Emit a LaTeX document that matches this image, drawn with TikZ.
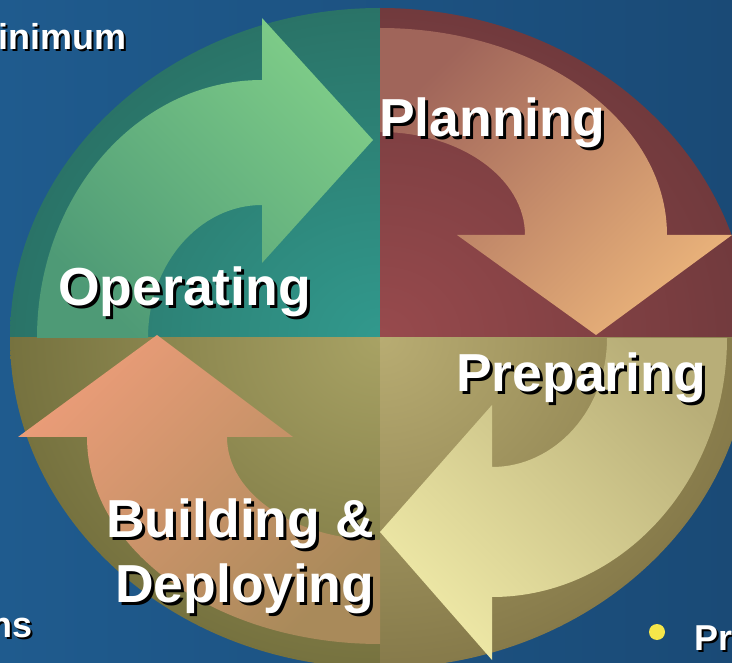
\documentclass[tikz,border=0pt]{standalone}
\usepackage{fontspec}
\setmainfont{Liberation Sans}
\definecolor{bgleft}{HTML}{1F5B8E}
\definecolor{bgright}{HTML}{1A4A76}
\definecolor{tealin}{HTML}{31998D}
\definecolor{tealout}{HTML}{2A7367}
\definecolor{redin}{HTML}{984A4D}
\definecolor{redout}{HTML}{713A3D}
\definecolor{olivein}{HTML}{A8A264}
\definecolor{oliveout}{HTML}{76723F}
\definecolor{khakiin}{HTML}{B8AC72}
\definecolor{khakiout}{HTML}{867A4A}
\definecolor{greentail}{HTML}{4E9A76}
\definecolor{greenhead}{HTML}{7ECC88}
\definecolor{orangetail}{HTML}{A0655A}
\definecolor{orangehead}{HTML}{E9B27A}
\definecolor{yellowtail}{HTML}{B8AE78}
\definecolor{yellowhead}{HTML}{EEE8A6}
\definecolor{salmontail}{HTML}{A98A5A}
\definecolor{salmonhead}{HTML}{EA9C78}
\definecolor{bulletyellow}{HTML}{F5E64A}
\begin{document}
\begin{tikzpicture}[x=1pt, y=-1pt]
    \tikzset{
        phase/.style={font=\fontsize{53.5}{60}\selectfont\bfseries, text=white, inner sep=0pt},
        phaseshadow/.style={phase, text=black},
        note/.style={font=\fontsize{36}{40}\selectfont\bfseries, text=white, inner sep=0pt},
        noteshadow/.style={note, text=black}
    }
    \useasboundingbox (0,0) rectangle (732,663);

    % Fundo
    \shade[left color=bgleft, right color=bgright] (0,0) rectangle (732,663);

    % Quadrantes
    \foreach \qx/\qy/\cin/\cout in {0/0/tealin/tealout, 760/0/redin/redout, 0/700/olivein/oliveout, 760/700/khakiin/khakiout} {
        \begin{scope}
            \clip (380,338) rectangle (\qx,\qy);
            \shade[inner color=\cin, outer color=\cout] (380,338) ellipse [x radius=370pt, y radius=330pt];
        \end{scope}
    }

    % Setas
    \shade[bottom color=greentail, top color=greenhead, shading angle=-45]
        (148,338) -- (37,338) arc [start angle=180, end angle=90, x radius=225pt, y radius=258pt]
        -- (262,18) -- (373,140) -- (262,263) -- (262,205)
        arc [start angle=90, end angle=180, x radius=114pt, y radius=133pt] -- cycle;
    \shade[top color=orangetail, bottom color=orangehead, shading angle=45]
        (380,132) -- (380,28) arc [start angle=90, end angle=0, x radius=287pt, y radius=207pt]
        -- (732,235) -- (596,335) -- (457,235) -- (525,235)
        arc [start angle=0, end angle=90, x radius=145pt, y radius=103pt] -- cycle;
    \shade[top color=yellowtail, bottom color=yellowhead, shading angle=-45]
        (607,338) -- (727,338) arc [start angle=0, end angle=-90, x radius=235pt, y radius=259pt]
        -- (492,660) -- (380,532) -- (492,405) -- (492,467)
        arc [start angle=-90, end angle=0, x radius=115pt, y radius=129pt] -- cycle;
    \shade[top color=salmonhead, bottom color=salmontail, shading angle=45]
        (380,540) -- (380,644) arc [start angle=270, end angle=180, x radius=293pt, y radius=207pt]
        -- (18,437) -- (157,335) -- (293,437) -- (227,437)
        arc [start angle=180, end angle=270, x radius=153pt, y radius=103pt] -- cycle;

    % Textos
    \node[phaseshadow, anchor=base west] (plan-s) at (382,140) {Planning};
    \node[phase, anchor=base west] (plan) at (379,137) {Planning};
    \node[phaseshadow, anchor=base west] (oper-s) at (61,309) {Operating};
    \node[phase, anchor=base west] (oper) at (58,306) {Operating};
    \node[phaseshadow, anchor=base west] (prep-s) at (459,395) {Preparing};
    \node[phase, anchor=base west] (prep) at (456,392) {Preparing};
    \node[phaseshadow, anchor=base east] (build-s) at (377,540) {Building \&};
    \node[phase, anchor=base east] (build) at (374,537) {Building \&};
    \node[phaseshadow, anchor=base east] (deploy-s) at (377,605) {Deploying};
    \node[phase, anchor=base east] (deploy) at (374,602) {Deploying};

    \node[noteshadow, anchor=base east] (minimum-s) at (129,52) {inimum};
    \node[note, anchor=base east] (minimum) at (127,50) {inimum};
    \node[noteshadow, anchor=base east] (ns-s) at (35,639) {ns};
    \node[note, anchor=base east] (ns) at (33,637) {ns};
    \node[circle, fill=bulletyellow, minimum size=16pt, inner sep=0pt] (bullet) at (657,632) {};
    \node[noteshadow, anchor=base west] (pr-s) at (696,652) {Pr};
    \node[note, anchor=base west] (pr) at (694,650) {Pr};
\end{tikzpicture}
\end{document}
